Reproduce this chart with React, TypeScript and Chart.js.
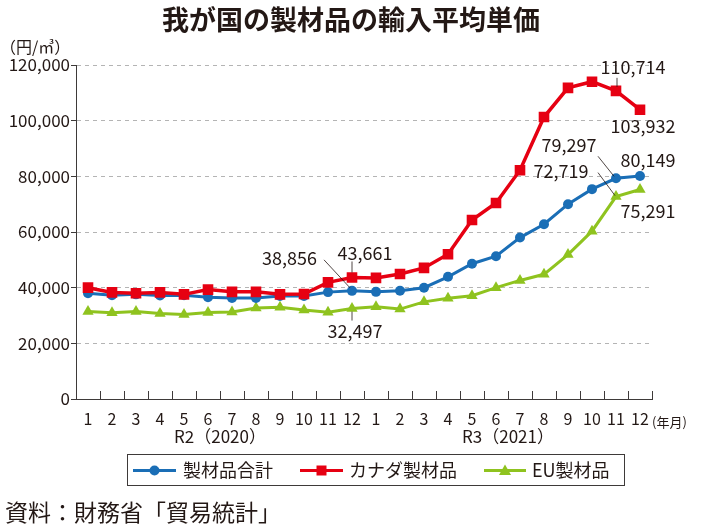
import React, { useEffect, useRef } from "react";
import { Chart, registerables } from "chart.js";

Chart.register(...registerables);

// ---------- data ----------
const monthLabels = ["1","2","3","4","5","6","7","8","9","10","11","12","1","2","3","4","5","6","7","8","9","10","11","12"];
const yearLabels = ["R2（2020）", "R3（2021）"];
const seriesNames = ["製材品合計", "カナダ製材品", "EU製材品"];
const totalValues = [38000, 37300, 37600, 37200, 37300, 36600, 36300, 36300, 37000, 37000, 38400, 38856, 38500, 38900, 40000, 43900, 48600, 51300, 58000, 62800, 70000, 75400, 79297, 80149];
const canadaValues = [40000, 38300, 38000, 38300, 37600, 39300, 38500, 38500, 37600, 37700, 41900, 43661, 43500, 44900, 47100, 52000, 64300, 70400, 82200, 101300, 111800, 114000, 110714, 103932];
const euValues = [31400, 31000, 31400, 30700, 30400, 31100, 31300, 32700, 33000, 32000, 31200, 32497, 33100, 32300, 34900, 36200, 37100, 40000, 42600, 44800, 51900, 60300, 72719, 75291];
const yMin = 0;
const yMax = 120000;
const yStep = 20000;
const titleText = "我が国の製材品の輸入平均単価";
const unitText = "（円/㎥）";
const xUnitText = "(年月)";
const sourceText = "資料：財務省「貿易統計」";

// ---------- styles ----------
const FONT = "'Noto Sans CJK JP', 'Noto Sans', sans-serif";
const TEXT = "#231815";
const AXIS = "#3e3a39";
const BLUE = "#1a6eb6";
const RED = "#e60012";
const GREEN = "#8fc31f";

const fmt = (v: number) => v.toLocaleString("en-US");

type Callout = { ds: number; i: number; dx: number; dy: number; align: CanvasTextAlign; lead?: [number, number, number, number] };
const callouts: Callout[] = [
  { ds: 0, i: 11, dx: -35, dy: -33, align: "right", lead: [-28, -31, -2, -3] },
  { ds: 1, i: 11, dx: 13, dy: -24, align: "center", lead: [0, -16, 0, -5] },
  { ds: 2, i: 11, dx: 3, dy: 23, align: "center", lead: [0, 3, 0, 12] },
  { ds: 1, i: 22, dx: 17, dy: -24, align: "center", lead: [1, -13, 1, -4] },
  { ds: 1, i: 23, dx: 3, dy: 16, align: "center" },
  { ds: 0, i: 22, dx: -47, dy: -33, align: "center", lead: [-18, -22, -2, -2] },
  { ds: 0, i: 23, dx: 8, dy: -16, align: "center" },
  { ds: 2, i: 22, dx: -55, dy: -25, align: "center", lead: [-18, -24, -1, -1] },
  { ds: 2, i: 23, dx: 8, dy: 22, align: "center" },
];

function drawMarker(ctx: CanvasRenderingContext2D, style: string, x: number, y: number, color: string) {
  ctx.fillStyle = color;
  ctx.beginPath();
  if (style === "circle") {
    ctx.arc(x, y, 5, 0, Math.PI * 2);
  } else if (style === "rect") {
    ctx.rect(x - 5, y - 5, 10, 10);
  } else {
    ctx.moveTo(x, y - 6);
    ctx.lineTo(x + 6, y + 4.5);
    ctx.lineTo(x - 6, y + 4.5);
    ctx.closePath();
  }
  ctx.fill();
}

const decorPlugin = {
  id: "decor",
  afterDraw(chart: any) {
    const ctx: CanvasRenderingContext2D = chart.ctx;
    const area = chart.chartArea;
    const xs = chart.scales.x;
    ctx.save();

    const n = monthLabels.length;
    const w = (area.right - area.left) / n;
    ctx.strokeStyle = AXIS;
    ctx.lineWidth = 1;
    ctx.beginPath();
    for (let k = 0; k <= n; k++) {
      const x = Math.round(area.left + k * w) + 0.5;
      ctx.moveTo(x, area.bottom);
      ctx.lineTo(x, area.bottom - 8);
    }
    ctx.stroke();

    ctx.fillStyle = TEXT;
    ctx.font = `bold 27px ${FONT}`;
    ctx.textAlign = "center";
    ctx.textBaseline = "middle";
    ctx.fillText(titleText, 351, 20);

    ctx.font = `16px ${FONT}`;
    ctx.textAlign = "left";
    ctx.fillText(unitText, 0, 47);

    ctx.font = `13px ${FONT}`;
    ctx.fillText(xUnitText, 652, 422);

    ctx.font = `17px ${FONT}`;
    ctx.textAlign = "center";
    for (let yIdx = 0; yIdx < yearLabels.length; yIdx++) {
      const a = xs.getPixelForValue(yIdx * 12);
      const b = xs.getPixelForValue(yIdx * 12 + 11);
      ctx.fillText(yearLabels[yIdx], (a + b) / 2, 437);
    }

    ctx.font = `18px ${FONT}`;
    ctx.strokeStyle = TEXT;
    ctx.lineWidth = 0.8;
    for (const c of callouts) {
      const pt = chart.getDatasetMeta(c.ds).data[c.i];
      const v = chart.data.datasets[c.ds].data[c.i] as number;
      if (c.lead) {
        ctx.beginPath();
        ctx.moveTo(pt.x + c.lead[0], pt.y + c.lead[1]);
        ctx.lineTo(pt.x + c.lead[2], pt.y + c.lead[3]);
        ctx.stroke();
      }
      ctx.textAlign = c.align;
      ctx.fillText(fmt(v), pt.x + c.dx, pt.y + c.dy);
    }

    const box = { x: 127.5, y: 454.5, w: 497, h: 31 };
    ctx.strokeStyle = AXIS;
    ctx.lineWidth = 1;
    ctx.strokeRect(box.x, box.y, box.w, box.h);
    const items = [
      { name: seriesNames[0], color: BLUE, style: "circle", x0: 133, x1: 176, tx: 183 },
      { name: seriesNames[1], color: RED, style: "rect", x0: 300, x1: 343, tx: 349 },
      { name: seriesNames[2], color: GREEN, style: "triangle", x0: 484, x1: 526, tx: 532 },
    ];
    const ly = 470.5;
    ctx.font = `18px ${FONT}`;
    ctx.textAlign = "left";
    for (const it of items) {
      ctx.strokeStyle = it.color;
      ctx.lineWidth = 3;
      ctx.beginPath();
      ctx.moveTo(it.x0, ly);
      ctx.lineTo(it.x1, ly);
      ctx.stroke();
      drawMarker(ctx, it.style, (it.x0 + it.x1) / 2, ly, it.color);
      ctx.fillStyle = TEXT;
      ctx.fillText(it.name, it.tx, ly);
    }

    ctx.font = `23px ${FONT}`;
    ctx.textAlign = "left";
    ctx.fillStyle = TEXT;
    ctx.fillText(sourceText, 5, 512);

    ctx.restore();
  },
};

export default function App() {
  const ref = useRef<HTMLCanvasElement | null>(null);
  useEffect(() => {
    if (!ref.current) return;
    const chart = new Chart(ref.current, {
      type: "line",
      data: {
        labels: monthLabels,
        datasets: [
          {
            label: seriesNames[0], data: totalValues, borderColor: BLUE, backgroundColor: BLUE,
            borderWidth: 3, pointStyle: "circle", pointRadius: 5, pointBorderWidth: 0, tension: 0, order: 2,
          },
          {
            label: seriesNames[1], data: canadaValues, borderColor: RED, backgroundColor: RED,
            borderWidth: 3.5, pointStyle: "rect", pointRadius: 7.5, pointBorderWidth: 0, tension: 0, order: 1,
          },
          {
            label: seriesNames[2], data: euValues, borderColor: GREEN, backgroundColor: GREEN,
            borderWidth: 3, pointStyle: "triangle", pointRadius: 6.5, pointBorderWidth: 0, tension: 0, order: 3,
          },
        ],
      },
      options: {
        animation: false,
        responsive: false,
        devicePixelRatio: 1,
        layout: { padding: { top: 65, right: 50, left: 0, bottom: 0 } },
        plugins: { legend: { display: false }, title: { display: false }, tooltip: { enabled: false } },
        scales: {
          x: {
            type: "category",
            offset: true,
            grid: { display: false },
            border: { display: true, color: AXIS, width: 1 },
            ticks: { autoSkip: false, maxRotation: 0, minRotation: 0, color: TEXT, font: { size: 16, family: FONT }, padding: 2 },
            afterFit: (s: any) => { s.height = 132; },
          },
          y: {
            min: yMin,
            max: yMax,
            grid: {
              color: (c: any) => (c.tick && c.tick.value === 0 ? "rgba(0,0,0,0)" : "#b4b4b4"),
              lineWidth: 1,
              drawTicks: true,
              tickLength: 5,
              tickColor: AXIS,
            },
            border: { display: true, color: AXIS, width: 1, dash: [4, 4] },
            ticks: {
              stepSize: yStep,
              color: TEXT,
              font: { size: 17, family: FONT },
              padding: 1,
              callback: (v: any) => fmt(Number(v)),
            },
            afterFit: (s: any) => { s.width = 76; },
          },
        },
      },
      plugins: [decorPlugin],
    });
    return () => chart.destroy();
  }, []);
  return (
    <div style={{ position: "absolute", left: 0, top: 0, width: 702, height: 531, background: "#fff" }}>
      <canvas ref={ref} width={702} height={531} />
    </div>
  );
}
